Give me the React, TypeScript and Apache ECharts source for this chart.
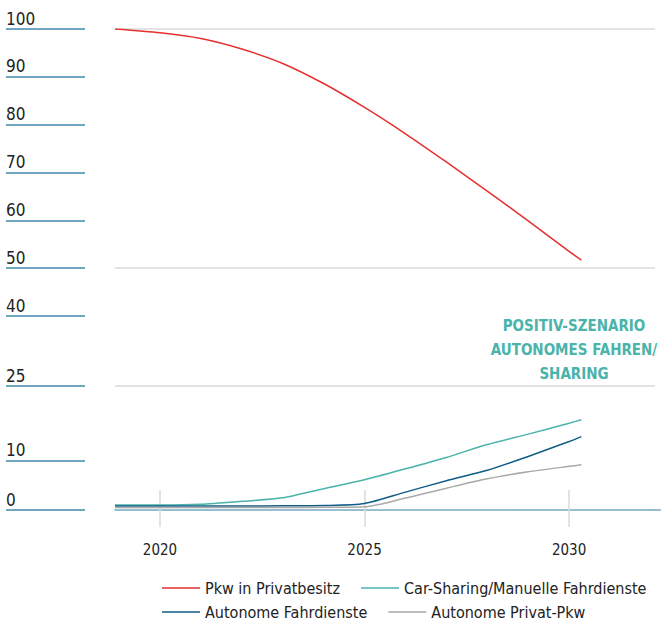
import React, { useEffect, useRef } from "react";
import * as echarts from "echarts";

const years = [2018.9, 2020, 2021, 2022, 2023, 2024, 2025, 2026, 2027, 2028, 2029, 2030, 2030.3];
const pkwPrivat = [100, 99.2, 98.0, 95.8, 92.8, 88.6, 83.6, 78.1, 72.2, 66.1, 59.9, 53.5, 51.7];
const carSharing = [1.0, 1.0, 1.15, 1.75, 2.45, 4.3, 6.1, 8.3, 10.6, 13.2, 15.3, 17.5, 18.2];
const autonomeFahrdienste = [0.8, 0.8, 0.8, 0.8, 0.85, 0.9, 1.3, 3.6, 5.9, 8.0, 10.8, 13.8, 14.8];
const autonomePrivat = [0.5, 0.5, 0.5, 0.5, 0.5, 0.55, 0.65, 2.4, 4.4, 6.3, 7.7, 8.8, 9.1];

const seriesNames = [
  "Pkw in Privatbesitz",
  "Car-Sharing/Manuelle Fahrdienste",
  "Autonome Fahrdienste",
  "Autonome Privat-Pkw",
];
const xTicks = [2020, 2025, 2030];
const lowerTicks = [0, 10, 25];
const annotation = "POSITIV-SZENARIO\nAUTONOMES FAHREN/\nSHARING";

const FONT = "'DejaVu Sans Condensed', 'Liberation Sans Narrow', sans-serif";
const TICK_COLOR = "#4189ad";
const GRID_COLOR = "#dadada";
const T = "rgba(0,0,0,0)";

const pair = (vals: number[]) => years.map((y, i) => [y, vals[i]]);

export default function App() {
  const ref = useRef<HTMLDivElement>(null);
  useEffect(() => {
    document.body.style.margin = "0";
    const chart = echarts.init(ref.current!, null, { renderer: "svg" });
    const xBase = { type: "value" as const, min: 2018.9, max: 2032.1 };
    const legendBase = {
      left: 157,
      width: 504,
      itemWidth: 38,
      itemHeight: 1.5,
      itemGap: 21,
      icon: "rect",
      textStyle: { fontFamily: FONT, fontSize: 16, color: "#222" },
    };
    chart.setOption({
      animation: false,
      backgroundColor: "#ffffff",
      grid: [
        { left: 115, right: 6, top: 29, height: 287 },
        { left: 115, right: 6, top: 386, height: 124 },
      ],
      xAxis: [
        { ...xBase, gridIndex: 0, show: false },
        {
          ...xBase,
          gridIndex: 1,
          position: "bottom",
          axisLine: { show: true, lineStyle: { color: "#74a9c2", width: 1.5 } },
          axisTick: { show: true, customValues: xTicks, length: 17, lineStyle: { color: GRID_COLOR, width: 1.5 } },
          axisLabel: {
            customValues: xTicks,
            margin: 32,
            fontFamily: FONT,
            fontSize: 15,
            color: "#222",
            formatter: (v: number) => String(v),
          },
          splitLine: { show: false },
        },
        {
          ...xBase,
          gridIndex: 1,
          position: "bottom",
          axisLine: { show: false },
          axisTick: { show: true, inside: true, customValues: xTicks, length: 20, lineStyle: { color: GRID_COLOR, width: 1.5 } },
          axisLabel: { show: false },
          splitLine: { show: false },
        },
      ],
      yAxis: [
        {
          type: "value",
          gridIndex: 0,
          min: 40,
          max: 100,
          interval: 10,
          offset: 30,
          axisLine: { show: false },
          axisTick: { show: true, length: 79, lineStyle: { color: TICK_COLOR, width: 1.5 } },
          axisLabel: {
            align: "left",
            verticalAlign: "bottom",
            margin: 79,
            padding: [0, 0, 2, 0],
            fontFamily: FONT,
            fontSize: 17,
            color: "#222",
          },
          splitLine: { show: true, lineStyle: { color: [T, GRID_COLOR, T, T, T, T, GRID_COLOR], width: 1.5 } },
        },
        {
          type: "value",
          gridIndex: 1,
          min: 0,
          max: 25,
          interval: 5,
          offset: 30,
          axisLine: { show: false },
          axisTick: { show: true, customValues: lowerTicks, length: 79, lineStyle: { color: TICK_COLOR, width: 1.5 } },
          axisLabel: {
            customValues: lowerTicks,
            align: "left",
            verticalAlign: "bottom",
            margin: 79,
            padding: [0, 0, 2, 0],
            fontFamily: FONT,
            fontSize: 17,
            color: "#222",
          },
          splitLine: { show: true, lineStyle: { color: [T, T, GRID_COLOR, T, T, GRID_COLOR], width: 1.5 } },
        },
        {
          type: "value",
          gridIndex: 1,
          min: 0,
          max: 25,
          interval: 5,
          offset: 0,
          axisLine: { show: false },
          axisTick: { show: true, customValues: [0], length: 30, lineStyle: { color: "#74a9c2", width: 1.5 } },
          axisLabel: { show: false },
          splitLine: { show: false },
        },
      ],
      legend: [
        { ...legendBase, data: [seriesNames[0], seriesNames[1]], top: 575 },
        { ...legendBase, data: [seriesNames[2], seriesNames[3]], top: 599 },
      ],
      graphic: [
        {
          type: "text",
          x: 574,
          y: 314,
          style: {
            text: annotation,
            fill: "#4ab3aa",
            font: `bold 15px ${FONT}`,
            textAlign: "center",
            lineHeight: 24,
          },
        },
      ],
      series: [
        {
          name: seriesNames[0],
          type: "line",
          xAxisIndex: 0,
          yAxisIndex: 0,
          data: pair(pkwPrivat),
          symbol: "none",
          smooth: 0.25,
          lineStyle: { color: "#e5302f", width: 1.5 },
          itemStyle: { color: "#e5302f" },
        },
        {
          name: seriesNames[1],
          type: "line",
          xAxisIndex: 1,
          yAxisIndex: 1,
          data: pair(carSharing),
          symbol: "none",
          smooth: 0.25,
          lineStyle: { color: "#4ab3aa", width: 1.5 },
          itemStyle: { color: "#4ab3aa" },
        },
        {
          name: seriesNames[2],
          type: "line",
          xAxisIndex: 1,
          yAxisIndex: 1,
          data: pair(autonomeFahrdienste),
          symbol: "none",
          smooth: 0.25,
          lineStyle: { color: "#0f5d86", width: 1.5 },
          itemStyle: { color: "#0f5d86" },
        },
        {
          name: seriesNames[3],
          type: "line",
          xAxisIndex: 1,
          yAxisIndex: 1,
          data: pair(autonomePrivat),
          symbol: "none",
          smooth: 0.25,
          lineStyle: { color: "#a9a9a9", width: 1.5 },
          itemStyle: { color: "#a9a9a9" },
        },
      ],
    });
    return () => chart.dispose();
  }, []);
  return <div ref={ref} style={{ width: 661, height: 621 }} />;
}
